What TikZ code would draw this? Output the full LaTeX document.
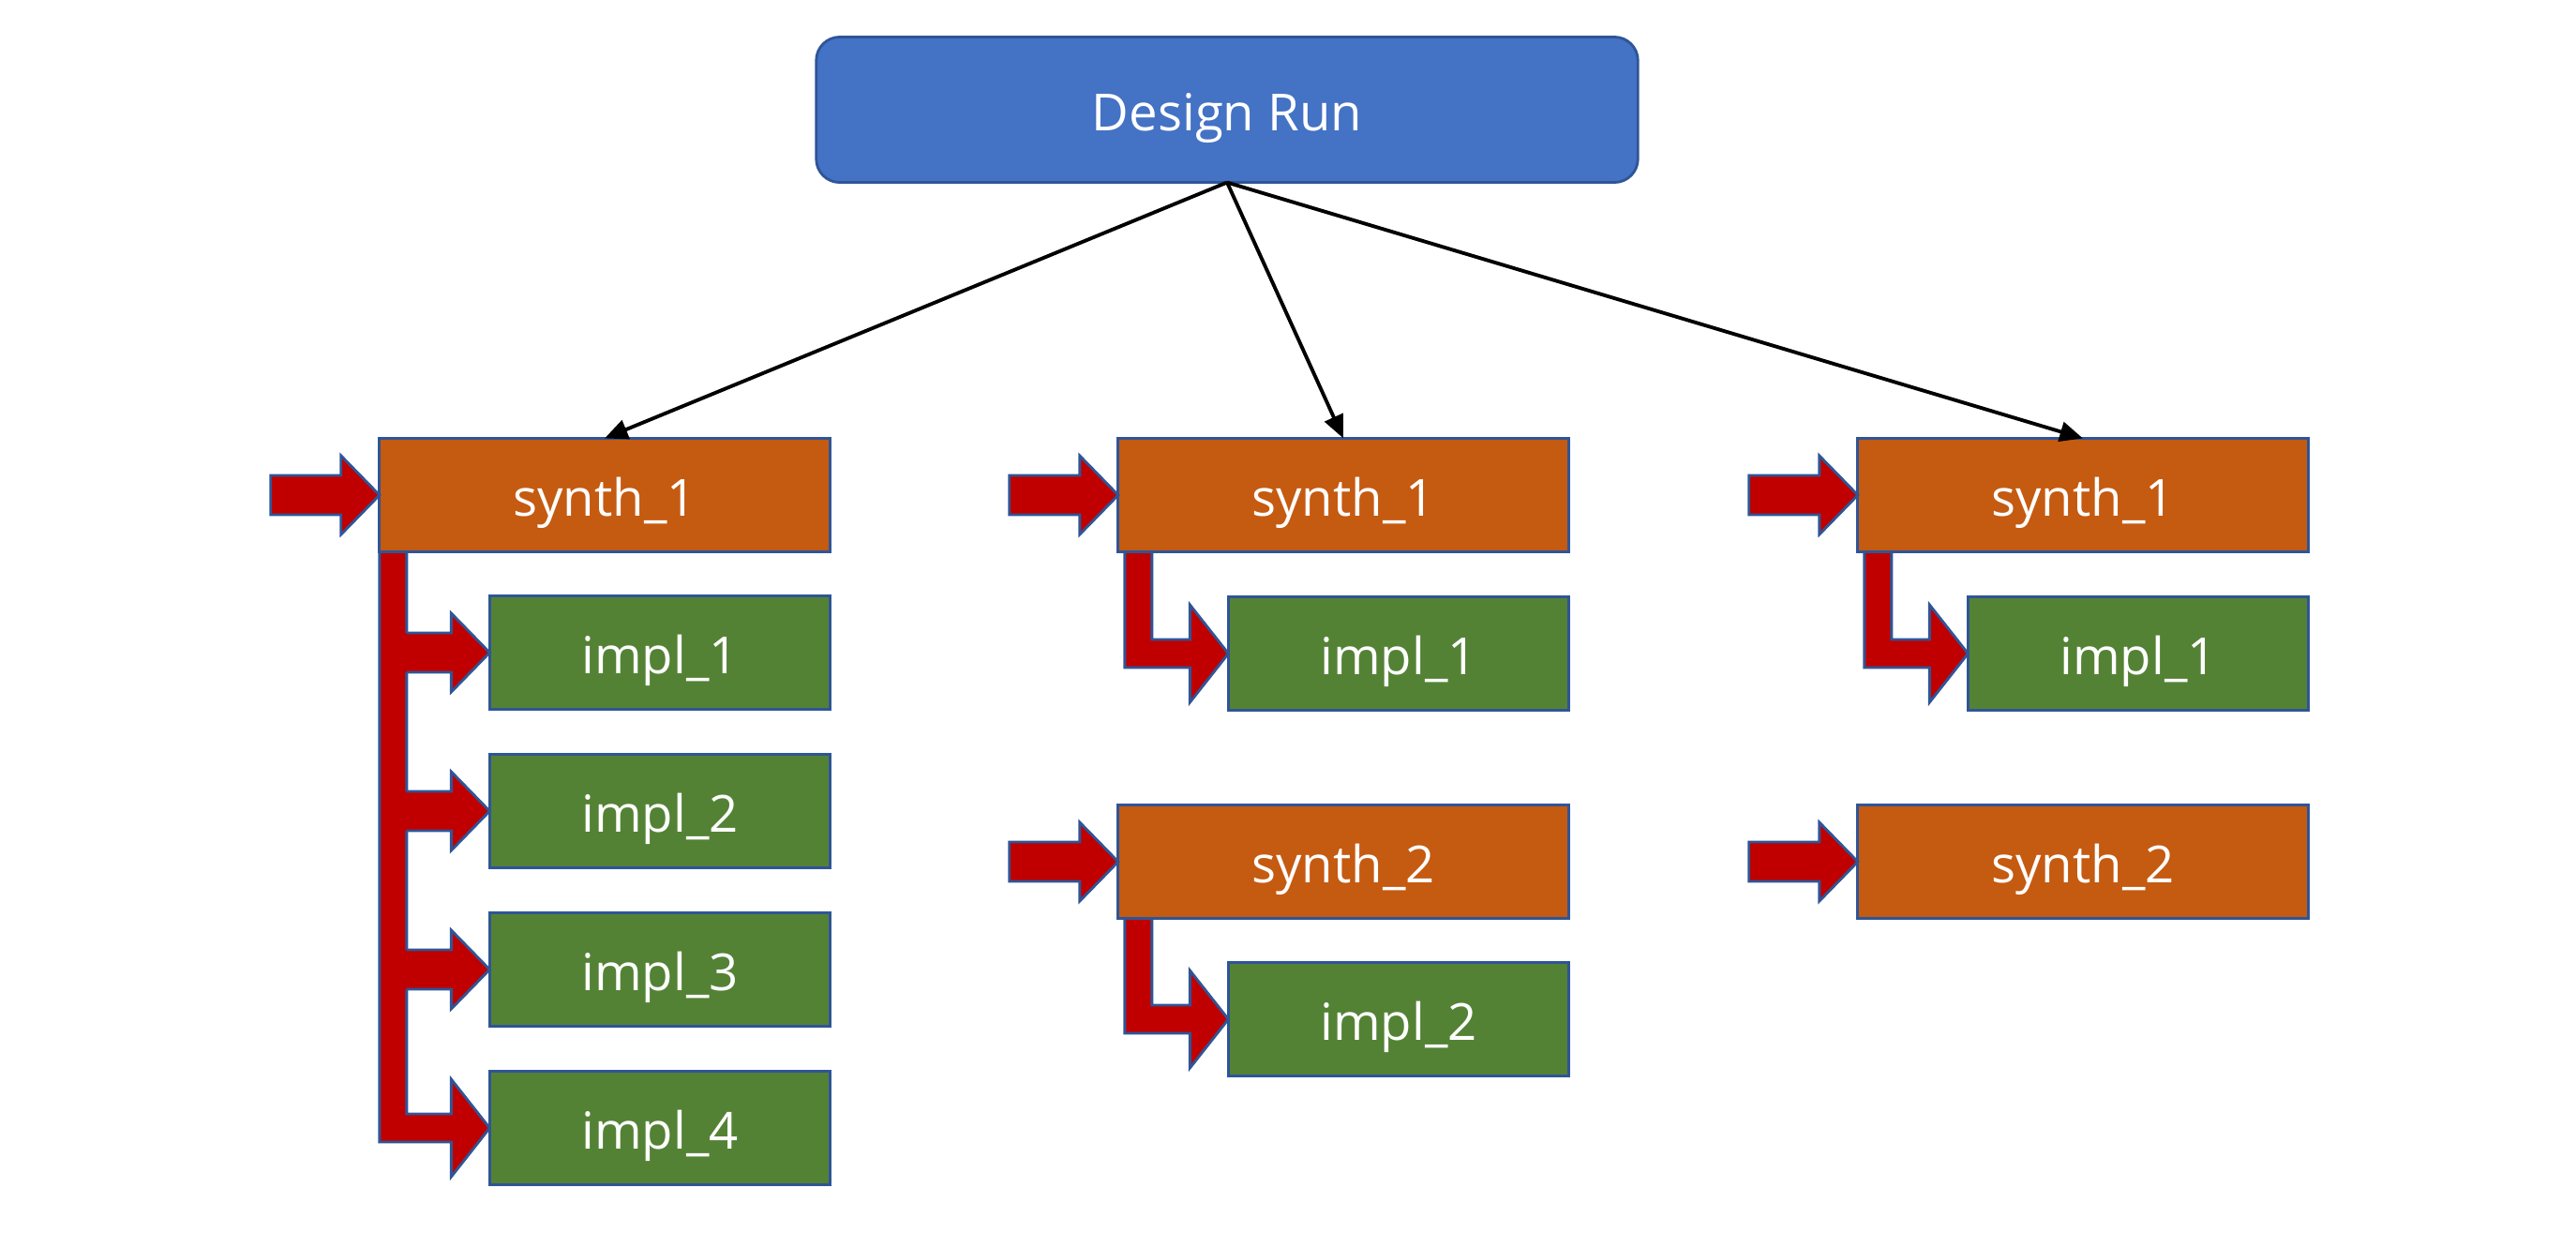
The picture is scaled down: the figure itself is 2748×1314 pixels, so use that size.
\documentclass[tikz,border=0pt]{standalone}
\usepackage{fontspec}
\setmainfont{Open Sans}
\usetikzlibrary{arrows.meta}
\definecolor{runblue}{HTML}{4472C4}
\definecolor{edgeblue}{HTML}{2F5597}
\definecolor{synthorange}{HTML}{C55A11}
\definecolor{implgreen}{HTML}{548235}
\definecolor{arrowred}{HTML}{C00000}
\tikzset{
  box/.style={draw=edgeblue, line width=0.8pt, text=white, inner sep=0pt, outer sep=0pt,
    minimum height=1.21cm, text height=14.6pt, text depth=1.6pt, font=\fontsize{15.5}{18}\selectfont},
  run/.style={box, fill=runblue, minimum width=8.76cm, minimum height=1.55cm, rounded corners=0.25cm},
  synth/.style={box, fill=synthorange, minimum width=4.8cm},
  impl/.style={box, fill=implgreen, minimum width=3.63cm},
  flow/.style={line width=1.1pt, -{Triangle[length=7pt,width=6pt]}},
  redfill/.style={fill=arrowred},
  redline/.style={draw=edgeblue, line width=0.8pt, line join=miter},
}
\begin{document}
\begin{tikzpicture}[x=0.01cm, y=-0.01cm]
  \useasboundingbox (0,0) rectangle (2748,1314);
  % input arrow into a synth run
  \def\inarrow#1{%
    \filldraw[redfill, redline] ([xshift=-1.16cm,yshift=0.21cm]#1.west) -- ([xshift=-0.41cm,yshift=0.21cm]#1.west)
      -- ([xshift=-0.41cm,yshift=0.42cm]#1.west) -- (#1.west) -- ([xshift=-0.41cm,yshift=-0.42cm]#1.west)
      -- ([xshift=-0.41cm,yshift=-0.21cm]#1.west) -- ([xshift=-1.16cm,yshift=-0.21cm]#1.west) -- cycle;}
  % bent arrow from synth down to impl: #1 synth, #2 impl, #3 inset
  \def\bentarrow#1#2#3{%
    \filldraw[redfill, redline] ([xshift=#3]#1.south west) -- ([xshift=#3,yshift=-0.15cm]#1.south west |- #2.west)
      -- ([xshift=-0.41cm,yshift=-0.15cm]#2.west) -- ([xshift=-0.41cm,yshift=-0.52cm]#2.west) -- (#2.west)
      -- ([xshift=-0.41cm,yshift=0.52cm]#2.west) -- ([xshift=-0.41cm,yshift=0.15cm]#2.west)
      -- ([xshift=#3+0.29cm,yshift=0.15cm]#1.south west |- #2.west) -- ([xshift=#3+0.29cm]#1.south west) -- cycle;}
  % branch arrow off the bar
  \def\brarrow#1#2{%
    \fill[redfill] ([xshift=0.26cm,yshift=0.21cm]#1.south west |- #2.west) -- ([xshift=-0.41cm,yshift=0.21cm]#2.west)
      -- ([xshift=-0.41cm,yshift=0.42cm]#2.west) -- (#2.west) -- ([xshift=-0.41cm,yshift=-0.42cm]#2.west)
      -- ([xshift=-0.41cm,yshift=-0.21cm]#2.west) -- ([xshift=0.26cm,yshift=-0.21cm]#1.south west |- #2.west) -- cycle;
    \draw[redline] ([xshift=0.29cm,yshift=0.21cm]#1.south west |- #2.west) -- ([xshift=-0.41cm,yshift=0.21cm]#2.west)
      -- ([xshift=-0.41cm,yshift=0.42cm]#2.west) -- (#2.west) -- ([xshift=-0.41cm,yshift=-0.42cm]#2.west)
      -- ([xshift=-0.41cm,yshift=-0.21cm]#2.west) -- ([xshift=0.29cm,yshift=-0.21cm]#1.south west |- #2.west);}

  \node[run] (run) at (1309,117) {Design Run};

  \node[synth] (s11) at (645,528) {synth\_1};
  \node[impl] (i11) at (704,696) {impl\_1};
  \node[impl] (i12) at (704,865) {impl\_2};
  \node[impl] (i13) at (704,1034) {impl\_3};
  \node[impl] (i14) at (704,1203) {impl\_4};

  \node[synth] (s21) at (1433,528) {synth\_1};
  \node[impl] (i21) at (1492,697) {impl\_1};
  \node[synth] (s22) at (1433,919) {synth\_2};
  \node[impl] (i22) at (1492,1087) {impl\_2};

  \node[synth] (s31) at (2222,528) {synth\_1};
  \node[impl] (i31) at (2281,697) {impl\_1};
  \node[synth] (s32) at (2222,919) {synth\_2};

  \foreach \s in {s11,s21,s22,s31,s32} {\inarrow{\s}}
  \bentarrow{s11}{i14}{0cm}
  \foreach \i in {i11,i12,i13} {\brarrow{s11}{\i}}
  \bentarrow{s21}{i21}{0.07cm}
  \bentarrow{s22}{i22}{0.07cm}
  \bentarrow{s31}{i31}{0.07cm}

  \draw[flow] (run.south) -- (s11.north);
  \draw[flow] (run.south) -- (s21.north);
  \draw[flow] (run.south) -- (s31.north);
\end{tikzpicture}
\end{document}
